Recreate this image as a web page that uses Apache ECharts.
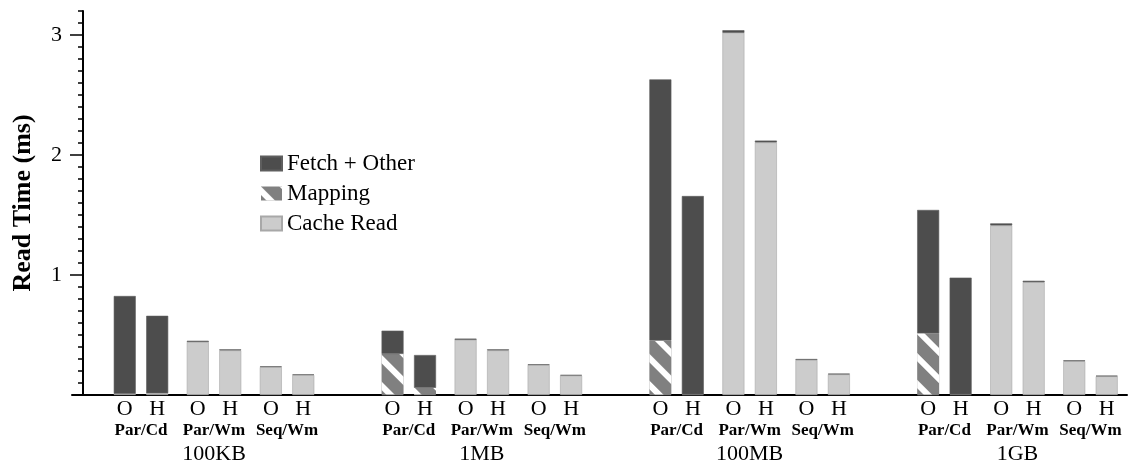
<!DOCTYPE html>
<html>
<head>
<meta charset="utf-8">
<script src="https://cdn.jsdelivr.net/npm/echarts@6/dist/echarts.min.js"></script>
<style>
html, body { margin: 0; padding: 0; background: #fff; }
#chart { width: 1131px; height: 466px; }
</style>
</head>
<body>
<div id="chart"></div>
<script>
var sizes = ['100KB', '1MB', '100MB', '1GB'];
var modes = ['Par/Cd', 'Par/Wm', 'Seq/Wm'];
var variants = ['O', 'H'];

// one value per bar, ordered size -> mode -> variant (ms)
var cacheRead = [
    0.010, 0.015, 0.442, 0.372, 0.233, 0.167,
    0.005, 0.005, 0.460, 0.372, 0.250, 0.162,
    0.005, 0.005, 3.018, 2.105, 0.292, 0.172,
    0.005, 0.005, 1.413, 0.940, 0.282, 0.156
];
var mapping = [
    0, 0, 0, 0, 0, 0,
    0.337, 0.055, 0, 0, 0, 0,
    0.448, 0, 0, 0, 0, 0,
    0.509, 0, 0, 0, 0, 0
];
var fetchOther = [
    0.815, 0.645, 0.010, 0.008, 0.006, 0.005,
    0.194, 0.273, 0.010, 0.008, 0.006, 0.005,
    2.177, 1.653, 0.022, 0.015, 0.008, 0.006,
    1.028, 0.973, 0.017, 0.012, 0.007, 0.005
];
var yTicks = [1, 2, 3];

// category slots: each bar sits in a narrow slot, gaps are empty slots
var slotCount = 130, firstSlot = 6, sizeStride = 33, modeStride = 9, variantStride = 4;

var cats = [], barLabels = [], modeLabels = [], sizeLabels = [];
for (var i = 0; i < slotCount; i++) {
    cats.push(String(i));
    barLabels.push('');
    modeLabels.push('');
    sizeLabels.push('');
}
var barSlots = [];
sizes.forEach(function (s, g) {
    var base = firstSlot + g * sizeStride;
    sizeLabels[base + ((modes.length - 1) * modeStride + variantStride) / 2] = s;
    modes.forEach(function (m, k) {
        var mb = base + k * modeStride;
        modeLabels[mb + variantStride / 2] = m;
        variants.forEach(function (v, j) {
            var idx = mb + j * variantStride;
            barLabels[idx] = v;
            barSlots.push(idx);
        });
    });
});

function slotData(values) {
    var d = cats.map(function () { return '-'; });
    barSlots.forEach(function (idx, n) { d[idx] = values[n]; });
    return d;
}

var font = 'Liberation Serif';

function labelAxis(labels, size, weight, margin) {
    return {
        type: 'category',
        position: 'bottom',
        data: cats,
        axisLine: { show: false },
        axisTick: { show: false },
        axisLabel: {
            interval: 0,
            margin: margin,
            fontFamily: font,
            fontSize: size,
            fontWeight: weight,
            color: '#000',
            formatter: function (v, i) { return labels[i]; }
        }
    };
}

var chart = echarts.init(document.getElementById('chart'));
var xMain = labelAxis(barLabels, 22, 'normal', 3);
xMain.axisLine = { show: true, lineStyle: { color: '#000', width: 2 } };

chart.setOption({
    animation: false,
    grid: { left: 72, right: 4, top: 11, bottom: 71 },
    legend: {
        orient: 'vertical',
        left: 255,
        top: 147,
        itemWidth: 21,
        itemHeight: 14,
        itemGap: 7,
        icon: 'rect',
        textStyle: { fontFamily: font, fontSize: 23, color: '#000' },
        data: ['Fetch + Other', 'Mapping', 'Cache Read']
    },
    xAxis: [
        xMain,
        labelAxis(modeLabels, 17, 'bold', 27),
        labelAxis(sizeLabels, 22, 'normal', 48)
    ],
    yAxis: [
        {
            type: 'value',
            position: 'left',
            offset: -11,
            min: 0,
            max: 3.2,
            interval: 0.1,
            splitLine: { show: false },
            axisLine: { show: true, lineStyle: { color: '#000', width: 2 } },
            axisTick: { show: true, length: 5, lineStyle: { color: '#000', width: 1.5 } },
            axisLabel: { show: false },
            name: 'Read Time (ms)',
            nameLocation: 'middle',
            nameGap: 47,
            nameTextStyle: { fontFamily: font, fontSize: 26, fontWeight: 'bold', color: '#000' }
        },
        {
            type: 'value',
            position: 'left',
            offset: -11,
            min: 0,
            max: 3.2,
            splitLine: { show: false },
            axisLine: { show: false },
            axisTick: { show: true, length: 13, customValues: yTicks, lineStyle: { color: '#000', width: 1.5 } },
            axisLabel: {
                customValues: yTicks,
                margin: 21,
                fontFamily: font,
                fontSize: 22,
                color: '#000'
            }
        }
    ],
    series: [
        {
            name: 'Cache Read',
            type: 'bar',
            stack: 'total',
            barWidth: 22,
            data: slotData(cacheRead),
            itemStyle: { color: '#cccccc', borderColor: '#a8a8a8', borderWidth: 0.6 }
        },
        {
            name: 'Mapping',
            type: 'bar',
            stack: 'total',
            barWidth: 22,
            data: slotData(mapping),
            itemStyle: {
                color: '#808080',
                decal: {
                    symbol: 'rect',
                    symbolSize: 1,
                    color: '#ffffff',
                    dashArrayX: [1, 0],
                    dashArrayY: [6, 13],
                    rotation: Math.PI / 4
                }
            }
        },
        {
            name: 'Fetch + Other',
            type: 'bar',
            stack: 'total',
            barWidth: 22,
            data: slotData(fetchOther),
            itemStyle: { color: '#4d4d4d', borderColor: '#5e5e5e', borderWidth: 0.6 }
        }
    ]
});
</script>
</body>
</html>
